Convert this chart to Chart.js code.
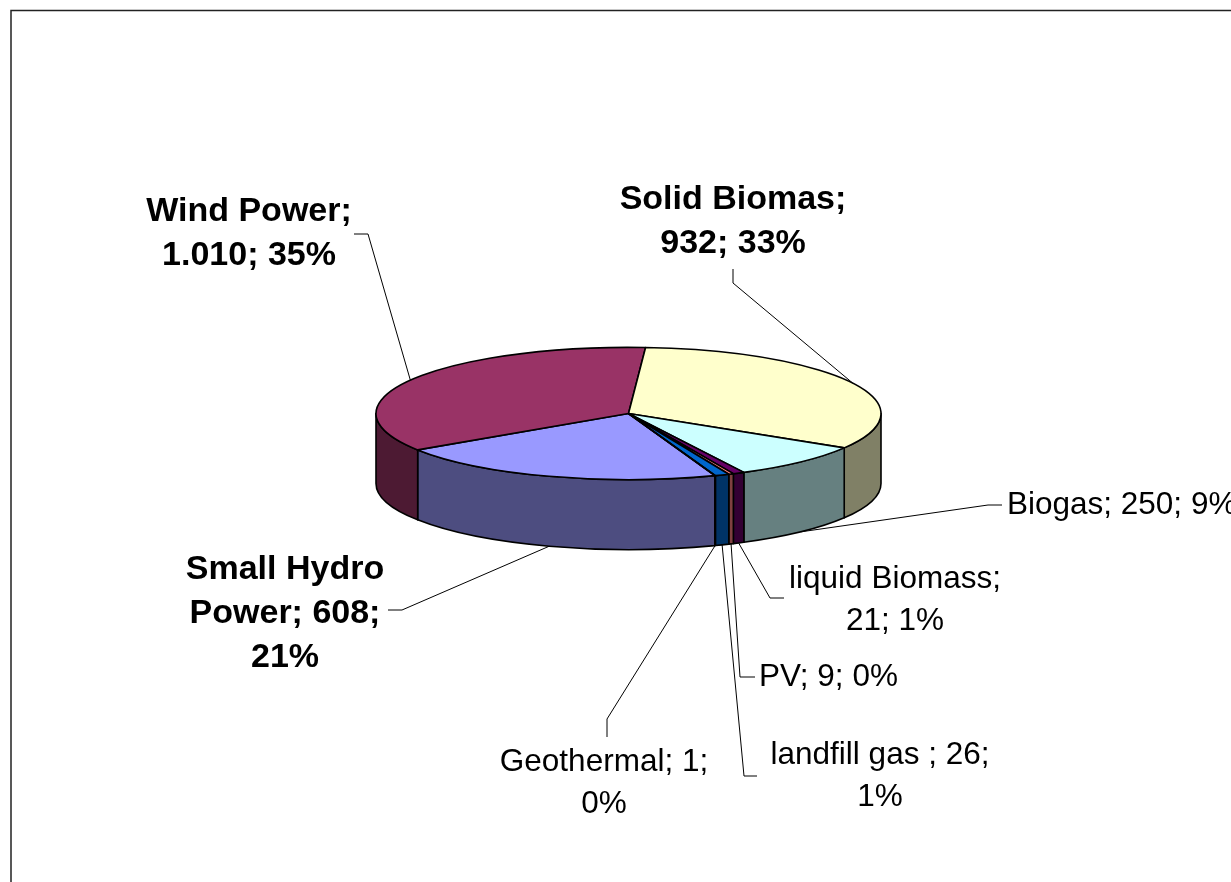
<!DOCTYPE html>
<html>
<head>
<meta charset="utf-8">
<script src="https://cdn.jsdelivr.net/npm/chart.js@4.4.0/dist/chart.umd.min.js"></script>
<style>
  html, body { margin: 0; padding: 0; background: #fff; }
  canvas { display: block; }
</style>
</head>
<body>
<canvas id="energyChart" width="1231" height="882"></canvas>
<script>
// installed capacity by source (MW)
const categories = ['Small Hydro Power', 'Wind Power', 'Solid Biomas', 'Biogas', 'liquid Biomass', 'PV', 'landfill gas ', 'Geothermal'];
const capacities = [608, 1010, 932, 250, 21, 9, 26, 1];
const sliceColors = ['#9999FF', '#993366', '#FFFFCC', '#CCFFFF', '#660066', '#FF8080', '#0066CC', '#CCCCFF'];

// where each label sits and how its leader line starts (same order as categories)
const labelLayout = [
  { x: 285, y: 614, bold: true, align: 'center', tip: [388, 610], elbow: [402, 610] },
  { x: 249, y: 234, bold: true, align: 'center', tip: [354, 234], elbow: [368, 234] },
  { x: 733, y: 222, bold: true, align: 'center', tip: [733, 269], elbow: [733, 283] },
  { x: 1007, y: 505, bold: false, align: 'left', tip: [1002, 505], elbow: [988, 505] },
  { x: 895, y: 600, bold: false, align: 'center', tip: [784, 598], elbow: [770, 598] },
  { x: 759, y: 677, bold: false, align: 'left', tip: [755, 677], elbow: [740, 677] },
  { x: 880, y: 776, bold: false, align: 'center', tip: [757, 776], elbow: [744, 776] },
  { x: 604, y: 783, bold: false, align: 'center', tip: [607, 737], elbow: [607, 719] }
];

const total = capacities.reduce((a, b) => a + b, 0);

function fmtValue(v) {
  return v.toString().replace(/\B(?=(\d{3})+(?!\d))/g, '.');
}

function darker(hex) {
  const n = parseInt(hex.slice(1), 16);
  const r = (n >> 16) & 255, g = (n >> 8) & 255, b = n & 255;
  return 'rgb(' + Math.round(r / 2) + ',' + Math.round(g / 2) + ',' + Math.round(b / 2) + ')';
}

function wrapText(ctx, text, maxW) {
  const words = text.split(' ');
  const lines = [];
  let cur = '';
  words.forEach(w => {
    const test = cur ? cur + ' ' + w : w;
    if (cur && ctx.measureText(test).width > maxW) {
      lines.push(cur);
      cur = w;
    } else {
      cur = test;
    }
  });
  if (cur) lines.push(cur);
  return lines;
}

// draws the pie as a tilted disc, using the arc angles computed by Chart.js
const pie3d = {
  id: 'pie3d',
  beforeDraw(chart) {
    const ctx = chart.ctx;
    ctx.save();
    ctx.fillStyle = '#fff';
    ctx.fillRect(0, 0, chart.width, chart.height);
    ctx.strokeStyle = '#222';
    ctx.lineWidth = 1.5;
    ctx.strokeRect(11, 10.5, chart.width + 50, chart.height + 50);
    ctx.restore();
  },
  beforeDatasetsDraw(chart) {
    const ctx = chart.ctx;
    const arcs = chart.getDatasetMeta(0).data;
    const cx = arcs[0].x, cy = arcs[0].y;
    const rx = arcs[0].outerRadius;
    const ry = rx * 0.262;
    const depth = rx * 0.277;

    ctx.save();
    ctx.lineWidth = 1.6;
    ctx.lineJoin = 'round';
    ctx.strokeStyle = '#000';

    // outer walls on the front half
    arcs.forEach((arc, i) => {
      for (let k = -1; k <= 2; k++) {
        const lo = Math.max(arc.startAngle, 2 * Math.PI * k);
        const hi = Math.min(arc.endAngle, 2 * Math.PI * k + Math.PI);
        if (hi <= lo) continue;
        ctx.beginPath();
        ctx.ellipse(cx, cy, rx, ry, 0, lo, hi);
        ctx.lineTo(cx + rx * Math.cos(hi), cy + depth + ry * Math.sin(hi));
        ctx.ellipse(cx, cy + depth, rx, ry, 0, hi, lo, true);
        ctx.closePath();
        ctx.fillStyle = darker(sliceColors[i]);
        ctx.fill();
        ctx.stroke();
      }
    });

    // top faces
    arcs.forEach((arc, i) => {
      ctx.beginPath();
      ctx.moveTo(cx, cy);
      ctx.ellipse(cx, cy, rx, ry, 0, arc.startAngle, arc.endAngle);
      ctx.closePath();
      ctx.fillStyle = sliceColors[i];
      ctx.fill();
      ctx.stroke();
    });

    // labels with leader lines
    ctx.fillStyle = '#000';
    ctx.textBaseline = 'middle';
    arcs.forEach((arc, i) => {
      const lay = labelLayout[i];
      const mid = (arc.startAngle + arc.endAngle) / 2;
      const front = Math.sin(mid) > 0;
      const ax = cx + rx * Math.cos(mid);
      const ay = cy + ry * Math.sin(mid) + (front ? depth : 0);

      ctx.lineWidth = 1;
      ctx.beginPath();
      ctx.moveTo(lay.tip[0], lay.tip[1]);
      ctx.lineTo(lay.elbow[0], lay.elbow[1]);
      ctx.lineTo(ax, ay);
      ctx.stroke();

      const pct = Math.round(capacities[i] / total * 100);
      const text = categories[i] + '; ' + fmtValue(capacities[i]) + '; ' + pct + '%';
      ctx.font = (lay.bold ? 'bold 34px' : '31.5px') + ' "Liberation Sans", Arial, sans-serif';
      ctx.textAlign = lay.align;
      let maxW = lay.bold ? 250 : 235;
      if (lay.align === 'left') maxW = 500;
      const lines = wrapText(ctx, text, maxW);
      const lh = lay.bold ? 44 : 42;
      lines.forEach((ln, j) => {
        ctx.fillText(ln, lay.x, lay.y + (j - (lines.length - 1) / 2) * lh);
      });
    });

    ctx.restore();
    return false;
  }
};

new Chart(document.getElementById('energyChart'), {
  type: 'pie',
  data: {
    labels: categories,
    datasets: [{
      data: capacities,
      backgroundColor: sliceColors,
      borderWidth: 0,
      hoverBorderWidth: 0
    }]
  },
  options: {
    responsive: false,
    devicePixelRatio: 1,
    animation: false,
    events: [],
    rotation: 160,
    layout: {
      padding: { left: 376, right: 350, top: 161, bottom: 216 }
    },
    plugins: {
      legend: { display: false },
      tooltip: { enabled: false }
    }
  },
  plugins: [pie3d]
});
</script>
</body>
</html>
